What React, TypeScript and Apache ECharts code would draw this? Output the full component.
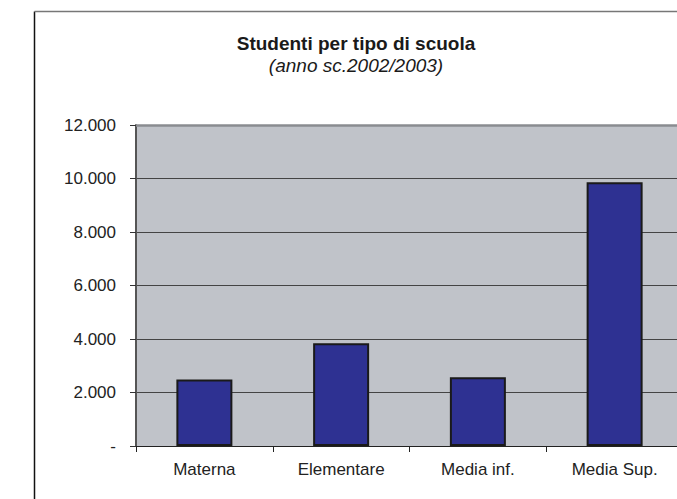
import React, { useEffect, useRef } from "react";
import * as echarts from "echarts";

const categories = ["Materna", "Elementare", "Media inf.", "Media Sup."];
const students = [2490, 3840, 2570, 9860];
const titleText = "Studenti per tipo di scuola";
const subtitleText = "(anno sc.2002/2003)";
const axisMax = 12000;

function fmt(v: number): string {
  if (v === 0) return "-";
  return String(v).replace(/\B(?=(\d{3})+(?!\d))/g, ".");
}

export default function App() {
  const ref = useRef<HTMLDivElement>(null);
  useEffect(() => {
    if (!ref.current) return;
    const chart = echarts.init(ref.current, undefined, { renderer: "svg" });
    const font = "Liberation Sans, Arial, sans-serif";
    chart.setOption({
      animation: false,
      backgroundColor: "#ffffff",
      title: [
        {
          text: titleText,
          left: 351,
          top: 29,
          padding: 5,
          textAlign: "center",
          textStyle: { fontFamily: font, fontSize: 19, fontWeight: "bold", color: "#1a1a1a" },
        },
        {
          text: subtitleText,
          left: 351,
          top: 51,
          padding: 5,
          textAlign: "center",
          textStyle: { fontFamily: font, fontSize: 19, fontStyle: "italic", fontWeight: "normal", color: "#1a1a1a" },
        },
      ],
      graphic: [
        {
          type: "line",
          shape: { x1: 34.5, y1: 11.5, x2: 34.5, y2: 600 },
          style: { stroke: "#111", lineWidth: 1.5 },
          silent: true,
        },
        {
          type: "line",
          shape: { x1: 34.5, y1: 11.5, x2: 800, y2: 11.5 },
          style: { stroke: "#777", lineWidth: 1.5 },
          silent: true,
        },
      ],
      grid: { left: 136, top: 125, width: 547, height: 321, backgroundColor: "#c0c3c9", show: true, borderWidth: 0 },
      xAxis: {
        type: "category",
        data: categories,
        axisLine: { lineStyle: { color: "#222", width: 1 } },
        axisTick: { show: true, length: 6, lineStyle: { color: "#222" } },
        axisLabel: { fontFamily: font, fontSize: 17, color: "#222", margin: 15 },
        splitLine: { show: false },
      },
      yAxis: {
        type: "value",
        min: 0,
        max: axisMax,
        interval: 2000,
        axisLine: { show: true, lineStyle: { color: "#555", width: 2 } },
        axisTick: { show: true, length: 6, lineStyle: { color: "#333" } },
        axisLabel: { fontFamily: font, fontSize: 17, color: "#222", margin: 20, formatter: (v: number) => fmt(v) },
        splitLine: { show: true, lineStyle: { color: "#444", width: 1 } },
      },
      series: [
        {
          type: "bar",
          data: students,
          barWidth: 56,
          itemStyle: { color: "#2e3192", borderColor: "#1a1a1a", borderWidth: 2 },
          markLine: {
            silent: true,
            symbol: "none",
            label: { show: false },
            lineStyle: { color: "#8a8c90", width: 2.5, type: "solid" },
            data: [{ yAxis: axisMax }],
          },
        },
      ],
    });
    return () => chart.dispose();
  }, []);
  return (
    <div style={{ position: "fixed", left: 0, top: 0, width: 677, height: 499, overflow: "hidden", background: "#fff" }}>
      <div ref={ref} style={{ width: 720, height: 499 }} />
    </div>
  );
}
